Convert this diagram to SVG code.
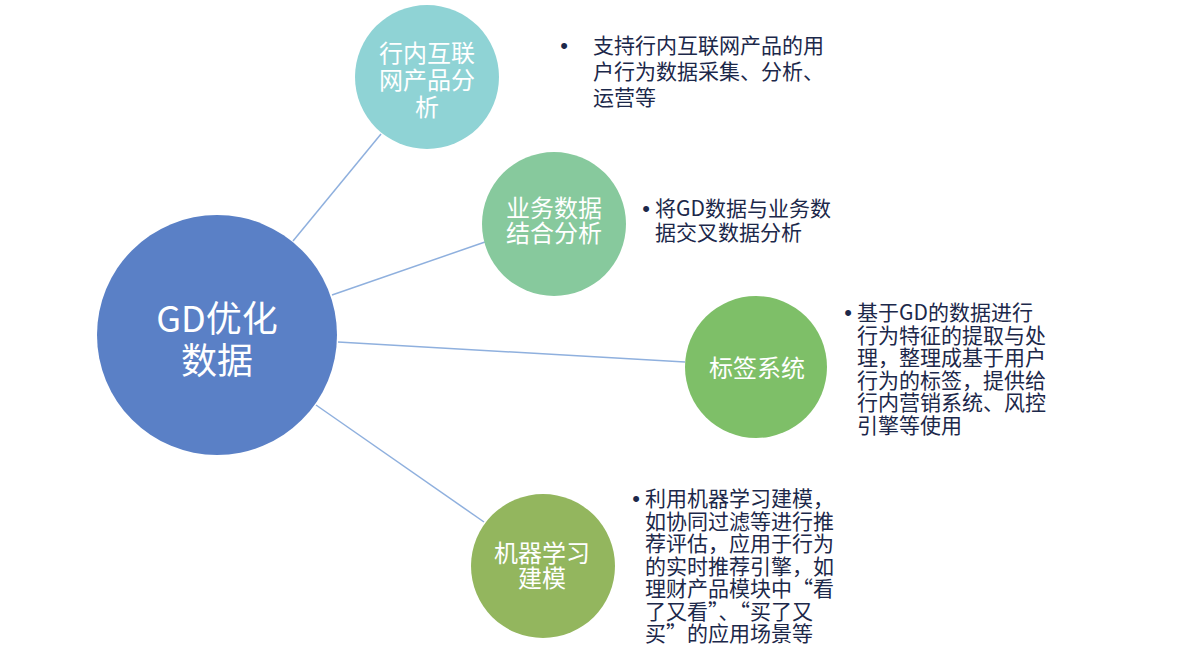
<svg xmlns="http://www.w3.org/2000/svg" width="1200" height="657" viewBox="0 0 1200 657">
<style>
.lbl{font-family:"Noto Sans CJK SC","Liberation Sans",sans-serif;fill:#ffffff;text-anchor:middle;font-size:24px}
.main{font-size:36px}
.desc{font-family:"Noto Sans CJK SC","Liberation Sans",sans-serif;fill:#1c284a;font-size:21px}
.bul{font-family:"Liberation Sans",sans-serif;fill:#1c284a;font-size:22px;text-anchor:middle}
.conn line{stroke:#8fb0de;stroke-width:1.5}
</style>
<rect width="1200" height="657" fill="#ffffff"/>
<g id="connectors" class="conn">
<line x1="293" y1="241" x2="381" y2="134"/>
<line x1="332" y1="295" x2="485" y2="242"/>
<line x1="338" y1="342" x2="685" y2="362"/>
<line x1="316" y1="405" x2="484" y2="522"/>
</g>
<g id="main">
<circle cx="217" cy="335" r="120" fill="#5a80c6"/>
<text class="lbl main" x="217" y="332">GD优化<tspan x="217" y="374">数据</tspan></text>
</g>
<g id="node1">
<circle cx="427" cy="77" r="72" fill="#8fd3d5"/>
<text class="lbl" x="427" y="62">行内互联<tspan x="427" y="89">网产品分</tspan><tspan x="427" y="116">析</tspan></text>
</g>
<g id="desc1">
<text class="bul" x="564" y="53">•</text>
<text class="desc" x="593" y="53">支持行内互联网产品的用<tspan x="593" y="79">户行为数据采集、分析、</tspan><tspan x="593" y="105">运营等</tspan></text>
</g>
<g id="node2">
<circle cx="554" cy="224" r="72" fill="#87c99d"/>
<text class="lbl" x="554" y="217">业务数据<tspan x="554" y="242">结合分析</tspan></text>
</g>
<g id="desc2">
<text class="bul" x="646" y="216">•</text>
<text class="desc" x="655" y="216">将GD数据与业务数<tspan x="655" y="240">据交叉数据分析</tspan></text>
</g>
<g id="node3">
<circle cx="756" cy="367" r="71" fill="#7ebf68"/>
<text class="lbl" x="757" y="377">标签系统</text>
</g>
<g id="desc3">
<text class="bul" x="848" y="320">•</text>
<text class="desc" x="857" y="320">基于GD的数据进行<tspan x="857" y="342.5">行为特征的提取与处</tspan><tspan x="857" y="365">理，整理成基于用户</tspan><tspan x="857" y="387.5">行为的标签，提供给</tspan><tspan x="857" y="410">行内营销系统、风控</tspan><tspan x="857" y="432.5">引擎等使用</tspan></text>
</g>
<g id="node4">
<circle cx="543" cy="566" r="72" fill="#93b65e"/>
<text class="lbl" x="542" y="562">机器学习<tspan x="542" y="587">建模</tspan></text>
</g>
<g id="desc4">
<text class="bul" x="636" y="506">•</text>
<text class="desc" x="645" y="506">利用机器学习建模，<tspan x="645" y="528.5">如协同过滤等进行推</tspan><tspan x="645" y="551">荐评估，应用于行为</tspan><tspan x="645" y="573.5">的实时推荐引擎，如</tspan><tspan x="645" y="596">理财产品模块中“看</tspan><tspan x="645" y="618.5">了又看”、“买了又</tspan><tspan x="645" y="641">买”的应用场景等</tspan></text>
</g>
</svg>
